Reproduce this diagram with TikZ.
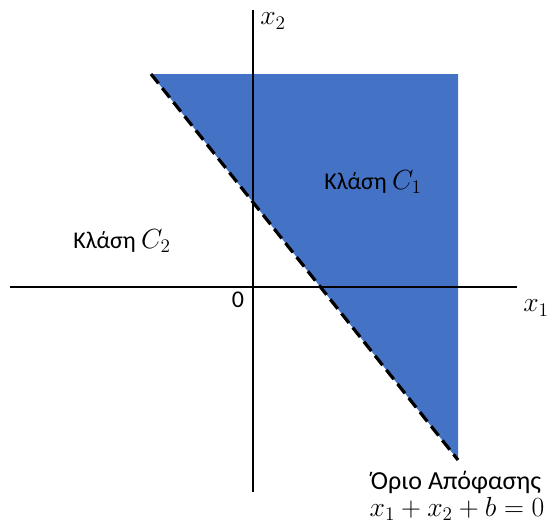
\documentclass[tikz,border=0pt]{standalone}
\usepackage{amsmath,amssymb}
\usepackage{fontspec}
\setmainfont{Carlito}
\usepackage{tikz}
\usepackage{xcolor}
\definecolor{regionblue}{HTML}{4472C4}
\newcommand{\mth}[1]{{\fontsize{20.5}{24}\selectfont$#1$}}

\begin{document}
\begin{tikzpicture}[x=0.75pt,y=-0.75pt,font=\fontsize{18}{21}\selectfont,line cap=butt,
  axis/.style={black,line width=1.5pt},
  boundary/.style={black,line width=2.4pt,dash pattern=on 9pt off 4.5pt},
  lbl/.style={inner sep=0pt}]
\useasboundingbox (0,0) rectangle (548,526);
\coordinate (topL) at (151,74);
\coordinate (topR) at (458,74);
\coordinate (botR) at (458,460);
\fill[regionblue] (topL) -- (topR) -- (botR) -- cycle;
\draw[axis] (10,287) -- (517,287);
\draw[axis] (253,10) -- (253,492);
\draw[boundary] (topL) -- (botR);
\node[lbl] (xtwo) at (273,21) {\mth{x_2}};
\node[lbl] (xone) at (536,308) {\mth{x_1}};
\node[lbl] (orig) at (238,300) {0};
\node[lbl] (cone) at (373,182) {Κλάση \mth{C_1}};
\node[lbl] (ctwo) at (122,241) {Κλάση \mth{C_2}};
\node[lbl,font=\fontsize{19.5}{22}\selectfont] (bnd) at (456,482) {Όριο Απόφασης};
\node[lbl] (eqn) at (457,509) {\mth{x_1+x_2+b=0}};
\end{tikzpicture}
\end{document}
